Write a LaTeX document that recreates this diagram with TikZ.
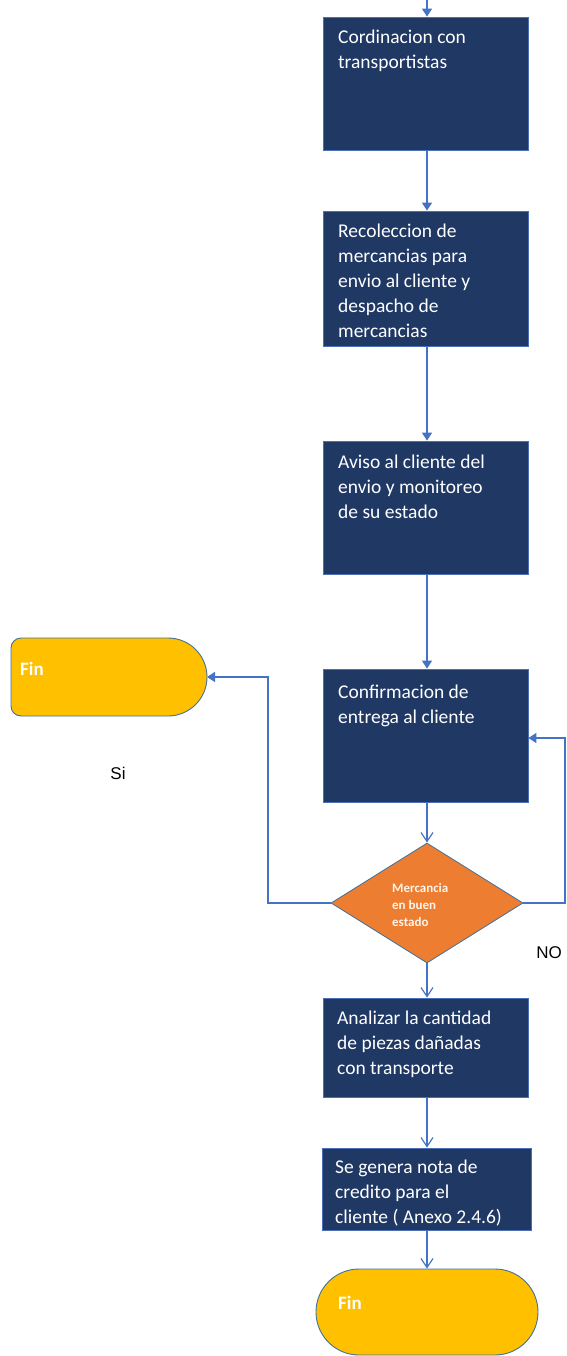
\documentclass[tikz,border=0pt]{standalone}
\usepackage{fontspec}
\setmainfont{Carlito}
\newfontfamily\arialf{Liberation Sans}
\usetikzlibrary{arrows.meta,shapes.geometric,shapes.misc}
\definecolor{navy}{HTML}{203864}
\definecolor{navyedge}{HTML}{4A6FB5}
\definecolor{linkblue}{HTML}{4472C4}
\definecolor{diaorange}{HTML}{ED7D31}
\definecolor{finyellow}{HTML}{FFC000}
\definecolor{finedge}{HTML}{41719C}
\begin{document}
\begin{tikzpicture}[x=1pt,y=-1pt,
  stepbox/.style={draw=navyedge,line width=0.8pt,fill=navy,minimum width=205pt,inner sep=0pt},
  boxtext/.style={anchor=north west,align=left,text=white,inner sep=0pt,
    font=\fontsize{19.5}{25}\selectfont},
  decision/.style={diamond,draw=finedge,line width=0.8pt,fill=diaorange,
    minimum width=192pt,minimum height=120pt,inner sep=0pt},
  decisiontext/.style={anchor=north west,align=left,text=white!92!orange,inner sep=0pt,
    font=\bfseries\fontsize{13}{17}\selectfont},
  terminal/.style={rounded rectangle,draw=finedge,line width=0.9pt,fill=finyellow,
    minimum width=222pt,minimum height=86pt,inner sep=0pt},
  fintext/.style={anchor=base west,text=white,inner sep=0pt,font=\bfseries\fontsize{19}{22}\selectfont},
  answer/.style={font=\arialf\fontsize{17}{20}\selectfont,inner sep=0pt},
  flow/.style={draw=linkblue,line width=1.3pt},
  tipfull/.style={-{Triangle[length=8pt,width=10pt]}},
  tipopen/.style={-{Straight Barb[length=9pt,width=12pt,line width=1.2pt]}}
]
\useasboundingbox (0,0) rectangle (566,1356);

% process boxes
\node[stepbox,minimum height=133pt] (b1) at (425.5,83.5) {};
\node[stepbox,minimum height=135pt] (b2) at (425.5,278.5) {};
\node[stepbox,minimum height=133pt] (b3) at (425.5,507.5) {};
\node[stepbox,minimum height=133pt] (b4) at (425.5,735.5) {};
\node[stepbox,minimum height=99pt] (b5) at (425.5,1047.5) {};
\node[stepbox,minimum width=209pt,minimum height=82pt] (b6) at (426.5,1189) {};

% box captions, placed by the top of their first line
\node[boxtext] (t1) at (338,29.5) {Cordinacion con\\transportistas};
\node[boxtext] (t2) at (338,223.5) {Recoleccion de\\mercancias para\\envio al cliente y\\despacho de\\mercancias};
\node[boxtext] (t3) at (338,454.5) {Aviso al cliente del\\envio y monitoreo\\de su estado};
\node[boxtext] (t4) at (338,684.5) {Confirmacion de\\entrega al cliente};
\node[boxtext] (t5) at (337,1010.5) {Analizar la cantidad\\de piezas da\~nadas\\con transporte};
\node[boxtext] (t6) at (335,1159.5) {Se genera nota de\\credito para el\\cliente ( Anexo 2.4.6)};

% decision
\node[decision] (d) at (427,903) {};
\node[decisiontext] (dt) at (392,883) {Mercancia\\en buen\\estado};

% terminals
\path[fill=finyellow,draw=finedge,line width=0.9pt]
  (168,638) -- (21,638) arc[start angle=270,end angle=180,radius=10]
  -- (11,706) arc[start angle=180,end angle=90,radius=10]
  -- (168,716) arc[start angle=90,end angle=-90,radius=39] -- cycle;
\coordinate (fin1) at (207,677);
\node[fintext] (ft1) at (20,675) {Fin};

\node[terminal] (fin2) at (427,1312) {};
\node[fintext] (ft2) at (338,1309) {Fin};

% answer labels
\node[answer] (si) at (118,773) {Si};
\node[answer] (no) at (549,953) {NO};

% connectors
\coordinate (top) at (427,0);
\draw[flow,tipfull] (top) -- (b1.north -| top);
\draw[flow,tipfull] (b1.south -| top) -- (b2.north -| top);
\draw[flow,tipfull] (b2.south -| top) -- (b3.north -| top);
\draw[flow,tipfull] (b3.south -| top) -- (b4.north -| top);
\draw[flow,tipopen] (b4.south -| top) -- (d.north);
\draw[flow,tipopen] (d.south) -- (b5.north -| top);
\draw[flow,tipopen] (b5.south -| top) -- (b6.north -| top);
\draw[flow,tipopen] (b6.south -| top) -- (fin2.north);

\coordinate (lc) at (268,677);
\draw[flow,tipfull] (d.west) -| (lc) -- (fin1);
\coordinate (rc) at (565,738);
\draw[flow,tipfull] (d.east) -| (rc) -- (b4.east |- rc);
\end{tikzpicture}
\end{document}
